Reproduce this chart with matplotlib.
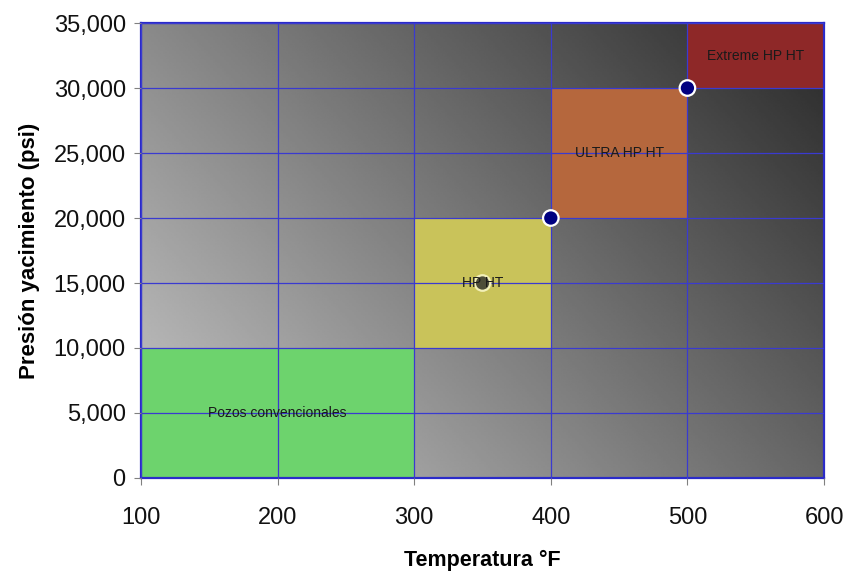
import matplotlib.pyplot as plt
from matplotlib.patches import Rectangle
from matplotlib.ticker import FuncFormatter
import numpy as np

plt.rcParams['font.family'] = ['Liberation Sans', 'DejaVu Sans']

# Zonas (temperatura min, max, presion min, max)
zonas = ["Pozos convencionales", "HP HT", "ULTRA HP HT", "Extreme HP HT"]
temp_min = [100, 300, 400, 500]
temp_max = [300, 400, 500, 600]
pres_min = [0, 10000, 20000, 30000]
pres_max = [10000, 20000, 30000, 35000]
etiqueta_x = [200, 350, 450, 550]
etiqueta_y = [5000, 15000, 25000, 32500]

# Puntos limite
punto_temp = [350, 400, 500]
punto_pres = [15000, 20000, 30000]

colores = ["#6dd36d", "#c9c35a", "#b5673d", "#8e2828"]
cara_pts = ["#4d4d38", "#000080", "#000080"]
borde_pts = ["#f2f0b8", "white", "white"]

fig = plt.figure(figsize=(8.48, 5.77), dpi=100)
ax = fig.add_axes([0.1663, 0.1716, 0.8054, 0.7885])

# fondo degradado gris (claro abajo-izq, oscuro arriba-der)
gx, gy = np.meshgrid(np.linspace(0, 1, 300), np.linspace(0, 1, 300))
fondo = 0.78 - 0.38 * gx - 0.24 * gy
ax.imshow(fondo, extent=[100, 600, 0, 35000], origin="lower", aspect="auto",
          cmap="gray", vmin=0, vmax=1, zorder=0)

for i in range(len(zonas)):
    ax.add_patch(Rectangle((temp_min[i], pres_min[i]), temp_max[i] - temp_min[i],
                           pres_max[i] - pres_min[i], facecolor=colores[i],
                           edgecolor="none", zorder=1))
    ax.text(etiqueta_x[i], etiqueta_y[i], zonas[i], ha="center", va="center",
            fontsize=10, color="#1a1a1a", zorder=6)

ax.scatter(punto_temp, punto_pres, s=125, c=cara_pts, edgecolors=borde_pts,
           linewidths=1.6, zorder=5)

ax.set_xlim(100, 600)
ax.set_ylim(0, 35000)
ax.set_xticks(np.arange(100, 601, 100))
ax.set_yticks(np.arange(0, 35001, 5000))
ax.yaxis.set_major_formatter(FuncFormatter(lambda v, p: f"{int(v):,}"))
ax.grid(True, color="#3a3ad0", linewidth=0.9, zorder=2)
ax.set_axisbelow(False)

for s in ax.spines.values():
    s.set_color("#2a2ac8")
    s.set_linewidth(1.6)

ax.tick_params(axis="both", colors="#808080", labelcolor="#111111", length=5)
ax.tick_params(axis="y", labelsize=17, pad=6)
ax.tick_params(axis="x", labelsize=17, pad=16)

ax.set_xlabel("Temperatura °F", fontsize=15.5, fontweight="bold", labelpad=15)
ax.set_ylabel("Presión yacimiento (psi)", fontsize=16, fontweight="bold", labelpad=10)

fig.savefig("out.png", dpi=100)
